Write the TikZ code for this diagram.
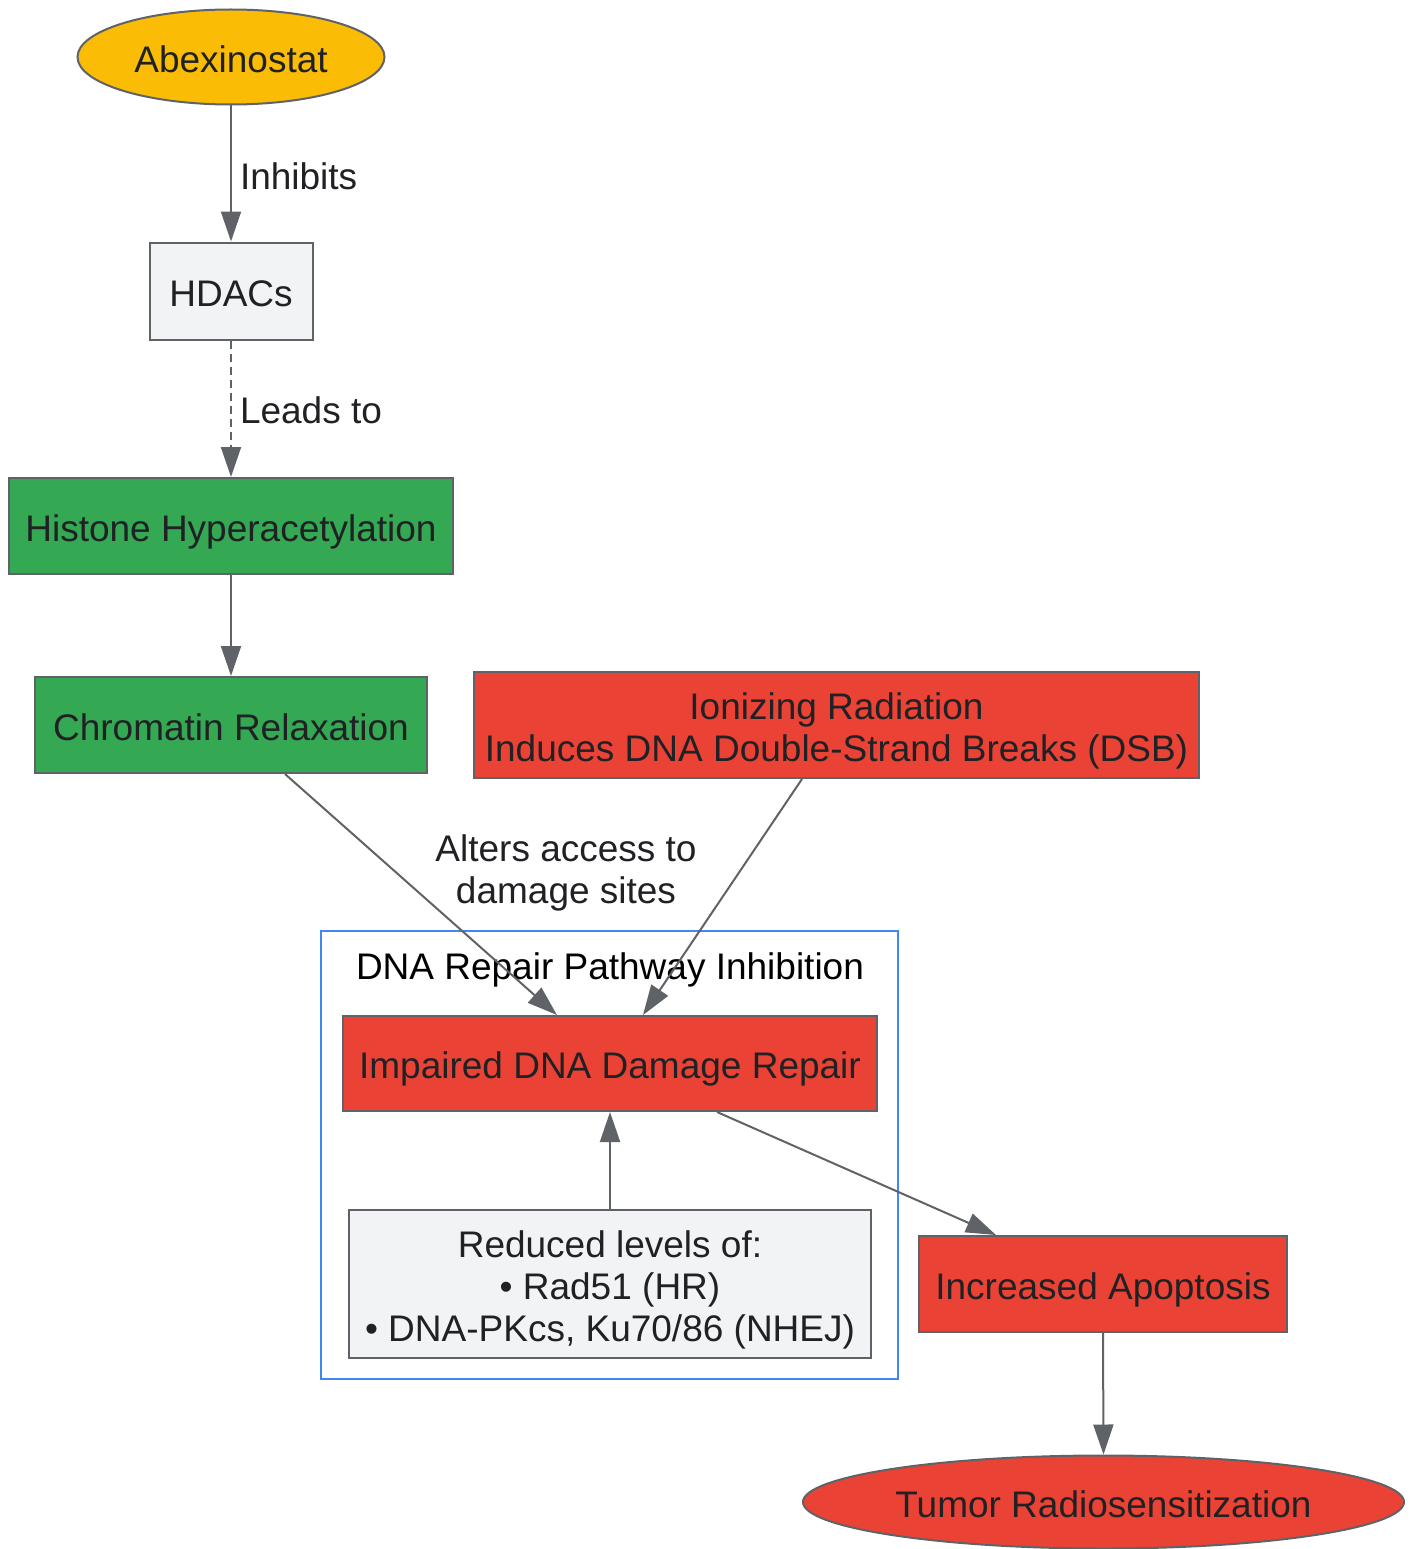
\documentclass[tikz,border=0pt]{standalone}
\usepackage{fontspec}
\setmainfont{Liberation Sans}
\usetikzlibrary{shapes.geometric,arrows.meta,calc}
\definecolor{gold}{HTML}{FBBC05}
\definecolor{ggreen}{HTML}{34A853}
\definecolor{gred}{HTML}{EA4335}
\definecolor{glight}{HTML}{F1F3F4}
\definecolor{gborder}{HTML}{5F6368}
\definecolor{gtext}{HTML}{202124}
\definecolor{gblue}{HTML}{4285F4}
\tikzset{
  base/.style={draw=gborder, line width=2pt, text=gtext, inner sep=0pt, align=center,
    font=\fontsize{37}{42}\selectfont},
  oneline/.style={text height=30.5pt, text depth=0pt},
  boxn/.style={base, rectangle},
  ell/.style={base, ellipse},
  conn/.style={draw=gborder, line width=2pt, -{Triangle[length=30pt,width=20pt]}},
  elabel/.style={text=gtext, font=\fontsize{37}{42}\selectfont, align=center, inner sep=0pt}
}
\begin{document}
\begin{tikzpicture}[x=1pt,y=-1pt]
\useasboundingbox (0,0) rectangle (1412,1549);
% cluster
\node[draw=gblue, line width=2pt, minimum width=577pt, minimum height=448pt, inner sep=0pt] (cluster) at (609.5,1155) {};
\node[text=black, font=\fontsize{37}{42}\selectfont, inner sep=0pt, oneline] (clabel) at (610,964) {DNA Repair Pathway Inhibition};
% nodes
\node[ell, oneline, fill=gold, minimum width=307pt, minimum height=95pt] (abex) at (231,57) {Abexinostat};
\node[boxn, oneline, fill=glight, minimum width=163pt, minimum height=97pt] (hdac) at (231,291) {HDACs};
\node[boxn, oneline, fill=ggreen, minimum width=444pt, minimum height=96pt] (hist) at (231,526) {Histone Hyperacetylation};
\node[boxn, oneline, fill=ggreen, minimum width=392pt, minimum height=96pt] (chrom) at (231,725) {Chromatin Relaxation};
\node[boxn, fill=gred, minimum width=725pt, minimum height=106pt] (ion) at (836.5,725) {};
\node[elabel] (iontext) at ($(ion.center)+(0,6)$) {Ionizing Radiation\\Induces DNA Double-Strand Breaks (DSB)};
\node[boxn, oneline, fill=gred, minimum width=534pt, minimum height=95pt] (imp) at (610,1063.5) {Impaired DNA Damage Repair};
\node[boxn, fill=glight, minimum width=522pt, minimum height=148pt] (red) at (610,1284) {};
\node[elabel] (redtext) at ($(red.center)+(0,6)$) {Reduced levels of:\\• Rad51 (HR)\\• DNA-PKcs, Ku70/86 (NHEJ)};
\node[boxn, oneline, fill=gred, minimum width=368pt, minimum height=96pt] (apo) at (1103,1284) {Increased Apoptosis};
\node[ell, oneline, fill=gred, minimum width=601pt, minimum height=93pt] (tumor) at (1103.5,1502) {Tumor Radiosensitization};
% connectors
\draw[conn] (abex.south) -- node[elabel, right, xshift=8pt, yshift=-3pt] (l1) {Inhibits} (hdac.north);
\draw[conn, dash pattern=on 8pt off 5pt] (hdac.south) -- node[elabel, right, xshift=8pt, yshift=-2pt] (l2) {Leads to} (hist.north);
\draw[conn] (hist.south) -- (chrom.north);
\draw[conn] ($(chrom.south)+(54,0)$) -- ($(imp.north)+(-53,0)$);
\node[elabel] (l3) at (566,873) {Alters access to\\damage sites};
\draw[conn] ($(ion.south)+(-34.5,0)$) -- ($(imp.north)+(33,0)$);
\draw[conn] (red.north) -- (imp.south);
\draw[conn] ($(imp.south)+(107,0)$) -- ($(apo.north)+(-107,0)$);
\draw[conn] (apo.south) -- (tumor.north);
\end{tikzpicture}
\end{document}
